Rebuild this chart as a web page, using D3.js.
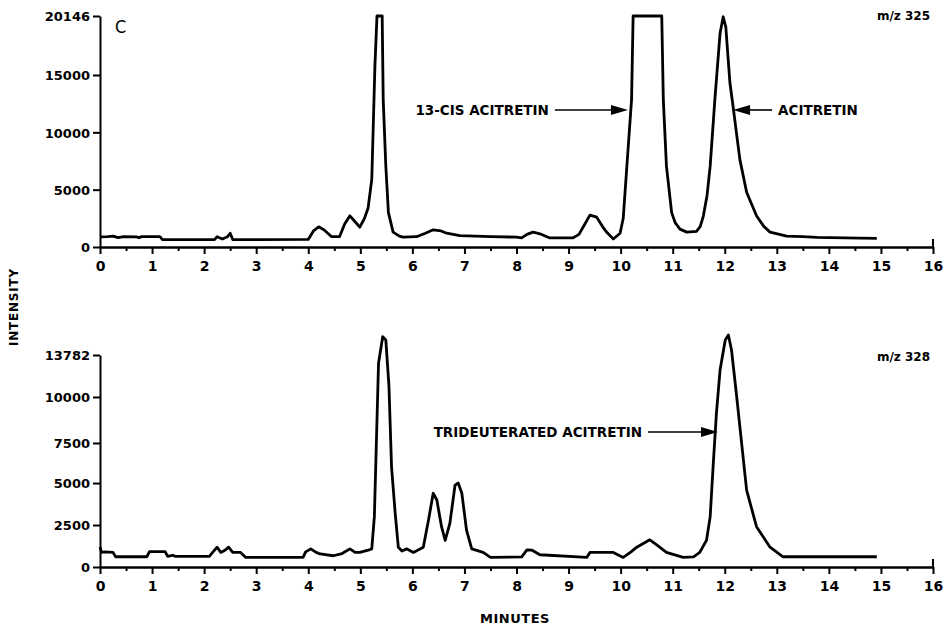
<!DOCTYPE html>
<meta charset="utf-8">
<head>
  <title>Acitretin chromatogram</title>
</head>

<style>
body {
  margin: 0;
  background: #fff;
}
svg text {
  font-family: "DejaVu Sans", sans-serif;
  font-weight: bold;
  fill: #000;
}
.trace {
  fill: none;
  stroke: #000;
  stroke-width: 2.8;
  stroke-linejoin: round;
}
.axis path, .axis line {
  stroke: #000;
  stroke-width: 2;
}
</style>

<body>
  <svg id="chart" width="944" height="628"></svg>

  <script src="https://cdnjs.cloudflare.com/ajax/libs/d3/7.8.5/d3.min.js"></script>

  <script>
  // minutes on x, intensity on y
  var minuteTicks = d3.range(0, 17);
  var topTicks = [0, 5000, 10000, 15000, 20146];
  var bottomTicks = [0, 2500, 5000, 7500, 10000, 13782];

  var topTrace = [
    [0.00, 880], [0.15, 900], [0.25, 950], [0.35, 820], [0.45, 900], [0.70, 880],
    [0.75, 820], [0.80, 900], [1.15, 900], [1.20, 640], [2.20, 640], [2.25, 900],
    [2.35, 700], [2.45, 900], [2.50, 1200], [2.55, 650], [3.00, 640], [4.00, 660],
    [4.10, 1400], [4.20, 1760], [4.30, 1500], [4.45, 900], [4.60, 900], [4.70, 2000],
    [4.80, 2720], [4.90, 2200], [4.99, 1730], [5.08, 2500], [5.15, 3400], [5.22, 5900],
    [5.28, 15700], [5.32, 20146], [5.42, 20146], [5.44, 12850], [5.49, 7050], [5.54, 3000],
    [5.63, 1300], [5.75, 950], [5.82, 860], [6.08, 900], [6.25, 1200], [6.40, 1500],
    [6.55, 1400], [6.66, 1200], [6.91, 1000], [7.50, 900], [8.00, 860], [8.10, 800],
    [8.20, 1100], [8.32, 1300], [8.45, 1150], [8.64, 790], [9.08, 790], [9.20, 1100],
    [9.30, 1900], [9.41, 2780], [9.54, 2600], [9.65, 1800], [9.73, 1300], [9.86, 700],
    [9.99, 1200], [10.05, 2500], [10.12, 7050], [10.21, 12850], [10.24, 20146], [10.79, 20146],
    [10.82, 12850], [10.88, 7050], [10.98, 3000], [11.05, 2100], [11.14, 1560], [11.27, 1300],
    [11.46, 1370], [11.53, 1800], [11.59, 2720], [11.66, 4500], [11.72, 7050], [11.81, 12850],
    [11.91, 18650], [11.97, 20080], [12.02, 19200], [12.10, 14300], [12.16, 12250], [12.29, 7640],
    [12.42, 4770], [12.61, 2720], [12.75, 1800], [12.87, 1300], [13.19, 950], [13.50, 900],
    [13.77, 840], [14.30, 800], [14.92, 750]
  ];

  var bottomTrace = [
    [0.00, 1200], [0.03, 870], [0.10, 900], [0.25, 870], [0.30, 610], [0.90, 610],
    [0.95, 915], [1.25, 915], [1.30, 630], [1.40, 700], [1.45, 630], [2.10, 630],
    [2.20, 1000], [2.25, 1180], [2.32, 870], [2.40, 1000], [2.47, 1180], [2.55, 870],
    [2.70, 870], [2.80, 570], [3.90, 570], [3.95, 900], [4.05, 1080], [4.15, 870],
    [4.23, 775], [4.48, 670], [4.65, 800], [4.80, 1080], [4.90, 870], [4.99, 870],
    [5.15, 1000], [5.22, 1080], [5.27, 3000], [5.30, 6500], [5.35, 13035], [5.43, 15430],
    [5.49, 15130], [5.55, 11000], [5.60, 6000], [5.67, 3200], [5.73, 1180], [5.80, 950],
    [5.89, 1080], [6.02, 870], [6.21, 1180], [6.31, 2800], [6.40, 4390], [6.47, 3990],
    [6.56, 2400], [6.63, 1590], [6.72, 2600], [6.82, 4880], [6.88, 5000], [6.95, 4390],
    [7.04, 2200], [7.14, 1080], [7.36, 870], [7.50, 570], [8.10, 600], [8.20, 1020],
    [8.30, 1000], [8.45, 730], [9.35, 570], [9.41, 870], [9.86, 870], [10.05, 570],
    [10.20, 900], [10.31, 1180], [10.56, 1620], [10.70, 1300], [10.88, 870], [11.20, 570],
    [11.40, 600], [11.52, 870], [11.65, 1590], [11.72, 3000], [11.78, 6230], [11.84, 9110],
    [11.91, 12430], [12.01, 15130], [12.07, 15580], [12.13, 14230], [12.23, 10000], [12.33, 7300],
    [12.42, 4580], [12.61, 2400], [12.87, 1180], [13.12, 610], [14.92, 610]
  ];

  var labels = {
    panel: "C",
    topIon: "m/z 325",
    bottomIon: "m/z 328",
    yTitle: "INTENSITY",
    xTitle: "MINUTES"
  };

  // arrow tip in data units, text and which way the arrow points
  var topNotes = [
    { text: "13-CIS ACITRETIN", t: 10.14, v: 11950, dir: "right", len: 73 },
    { text: "ACITRETIN", t: 12.16, v: 11950, dir: "left", len: 39 }
  ];
  var bottomNotes = [
    { text: "TRIDEUTERATED ACITRETIN", t: 11.87, v: 8100, dir: "right", len: 70 }
  ];

  var svg = d3.select("#chart");

  var x = d3.scaleLinear().domain([0, 16]).range([100, 933]);

  var yTop = d3.scaleLinear().domain([0, 20146]).range([247, 16]);

  // the printed axis of the lower panel is not evenly spaced
  var b0 = 567, b1 = 355;
  var bFrac = [0, 0.198, 0.396, 0.585, 0.802, 1];
  var yBot = d3.scaleLinear()
    .domain(bottomTicks)
    .range(bFrac.map(function(f) { return b0 - f * (b0 - b1); }));

  function panel(y, ticks, trace, notes, ion, ionY) {
    var g = svg.append("g");
    var base = y(0);

    // minor ticks on the half minute
    g.append("g")
      .attr("class", "axis")
      .attr("transform", "translate(0," + base + ")")
      .call(d3.axisBottom(x).tickValues(d3.range(0.5, 16, 1)).tickSize(4).tickSizeOuter(0).tickFormat(""));

    var xa = g.append("g")
      .attr("class", "axis")
      .attr("transform", "translate(0," + base + ")")
      .call(d3.axisBottom(x).tickValues(minuteTicks).tickSize(7).tickPadding(7).tickSizeOuter(0));
    xa.selectAll("text").style("font-size", "14px");
    xa.append("line")
      .attr("x1", x(16)).attr("x2", x(16))
      .attr("y1", 0).attr("y2", -8)
      .attr("stroke", "#000").attr("stroke-width", 2);

    var ya = g.append("g")
      .attr("class", "axis")
      .attr("transform", "translate(" + x(0) + ",0)")
      .call(d3.axisLeft(y).tickValues(ticks).tickFormat(d3.format("d")).tickSize(7).tickPadding(3).tickSizeOuter(0));
    ya.selectAll("text").style("font-size", "13px").attr("dy", "0.36em");

    g.append("path")
      .datum(trace)
      .attr("class", "trace")
      .attr("d", d3.line().x(function(d) { return x(d[0]); }).y(function(d) { return y(d[1]); }));

    g.append("text")
      .attr("x", 930)
      .attr("y", ionY)
      .attr("text-anchor", "end")
      .style("font-size", "12px")
      .text(ion);

    notes.forEach(function(n) {
      var tx = x(n.t), ty = y(n.v);
      var s = n.dir === "right" ? -1 : 1;
      var tail = tx + s * n.len;
      g.append("line")
        .attr("x1", tail).attr("x2", tx + s * 12)
        .attr("y1", ty).attr("y2", ty)
        .attr("stroke", "#000").attr("stroke-width", 1.6);
      g.append("path")
        .attr("d", "M" + tx + "," + ty + "L" + (tx + s * 17) + "," + (ty - 5) + "L" + (tx + s * 17) + "," + (ty + 5) + "Z")
        .attr("fill", "#000");
      g.append("text")
        .attr("x", tail + s * 6)
        .attr("y", ty + 5)
        .attr("text-anchor", n.dir === "right" ? "end" : "start")
        .style("font-size", "13.5px")
        .text(n.text);
    });
  }

  panel(yTop, topTicks, topTrace, topNotes, labels.topIon, 20);
  panel(yBot, bottomTicks, bottomTrace, bottomNotes, labels.bottomIon, 361);

  svg.append("text")
    .attr("x", 115)
    .attr("y", 33)
    .style("font-family", "'Liberation Sans Narrow', 'DejaVu Sans Condensed', sans-serif")
    .style("font-weight", "normal")
    .style("font-size", "18px")
    .text(labels.panel);

  svg.append("text")
    .attr("transform", "translate(18,307) rotate(-90)")
    .attr("text-anchor", "middle")
    .style("font-size", "12px")
    .style("letter-spacing", "0.8px")
    .text(labels.yTitle);

  svg.append("text")
    .attr("x", 515)
    .attr("y", 623)
    .attr("text-anchor", "middle")
    .style("font-size", "13px")
    .style("letter-spacing", "0.5px")
    .text(labels.xTitle);
  </script>
</body>
</html>
